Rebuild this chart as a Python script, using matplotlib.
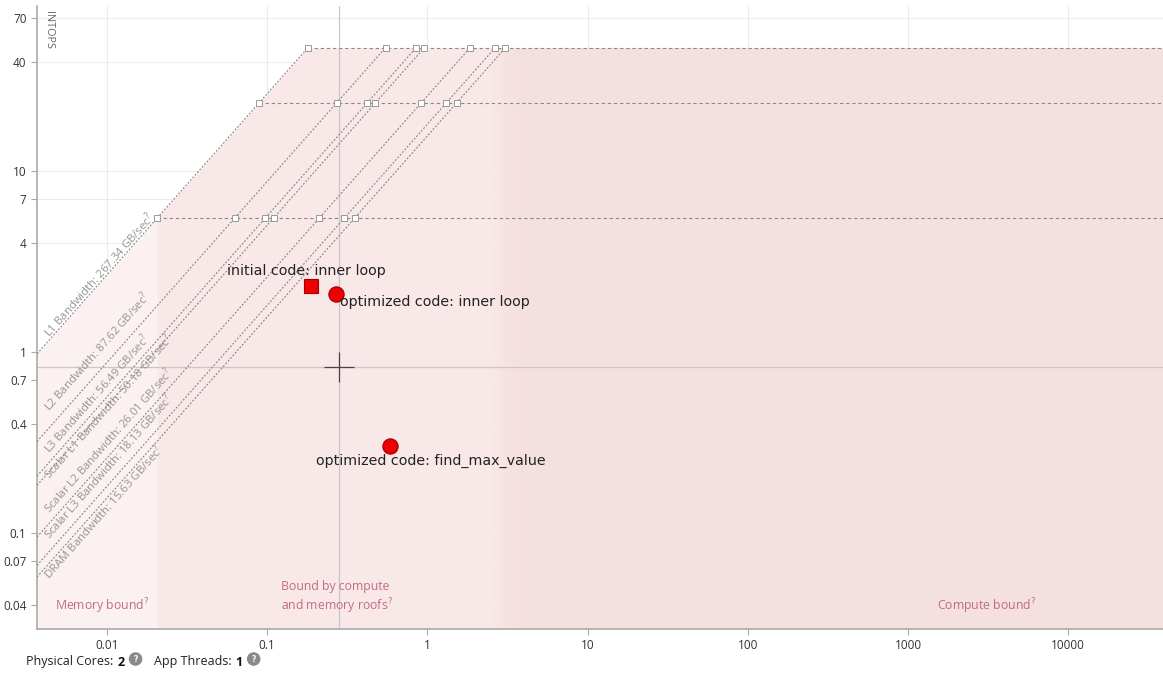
import numpy as np
import matplotlib
import matplotlib.pyplot as plt
from matplotlib.text import Annotation

matplotlib.use('Agg')

# bandwidth roofs (GB/sec)
bw_names = ['L1 Bandwidth', 'L2 Bandwidth', 'L3 Bandwidth', 'Scalar L1 Bandwidth',
            'Scalar L2 Bandwidth', 'Scalar L3 Bandwidth', 'DRAM Bandwidth']
bw_values = [267.34, 87.62, 56.49, 50.18, 26.01, 18.13, 15.63]

# compute roofs (GINTOPS)
peak_values = [48.0, 23.8, 5.5]

# loops on the chart
loop_names = ['initial code: inner loop', 'optimized code: inner loop',
              'optimized code: find_max_value']
loop_ai = [0.1875, 0.269, 0.584]
loop_perf = [2.32, 2.09, 0.303]
loop_markers = ['s', 'o', 'o']

x_ticks = [0.01, 0.1, 1, 10, 100, 1000, 10000]
x_ticklabels = ['0.01', '0.1', '1', '10', '100', '1000', '10000']
y_ticks = [0.04, 0.07, 0.1, 0.4, 0.7, 1, 4, 7, 10, 40, 70]
y_ticklabels = ['0.04', '0.07', '0.1', '0.4', '0.7', '1', '4', '7', '10', '40', '70']

cursor_ai, cursor_perf = 0.28, 0.826

physical_cores = 2
app_threads = 1

# layout: vertical offset (px) of each bandwidth label from its line
bw_label_dy = [2, 15, 8, -9, 9, 11, -17]
# layout: offsets (px) of loop labels from their points
loop_label_off = [(-5, 15), (4, -8), (41, -15)]
loop_label_ha = ['center', 'left', 'center']

W, H = 1163, 677
fig = plt.figure(figsize=(W / 100, H / 100), dpi=100)
ax = fig.add_axes([37 / W, (H - 629) / H, (W - 37) / W, (629 - 6) / H])
ax.set_xscale('log')
ax.set_yscale('log')
xlim = (0.003656, 39080)
ylim = (0.0295, 81.6)
ax.set_xlim(xlim)
ax.set_ylim(ylim)

ui_font = 'Open Sans'

# grid
for t in y_ticks:
    ax.axhline(t, color='#ececec', lw=0.8, zorder=0)
for t in x_ticks:
    ax.axvline(t, color='#ececec', lw=0.8, zorder=0)

# shaded regions under the roofline
def roof(x):
    return np.minimum(bw_values[0] * x, peak_values[0])

mem_edge = peak_values[-1] / bw_values[0]
comp_edge = peak_values[0] / bw_values[-1]
for a, b, c in [(xlim[0], mem_edge, '#fcf0f0'),
                (mem_edge, comp_edge, '#f9e7e7'),
                (comp_edge, xlim[1], '#f5dede')]:
    xs = np.geomspace(a, b, 300)
    ax.fill_between(xs, ylim[0], roof(xs), color=c, lw=0, zorder=1, alpha=0.92)
# soft edge at the compute bound region
c0 = np.array([0xf9, 0xe7, 0xe7]) / 255
c1 = np.array([0xf5, 0xde, 0xde]) / 255
edges = np.geomspace(comp_edge / 1.25, comp_edge * 1.25, 9)
for i in range(8):
    f = (i + 0.5) / 8
    xs = np.geomspace(edges[i], edges[i + 1], 10)
    ax.fill_between(xs, ylim[0], roof(xs), color=c0 * (1 - f) + c1 * f, lw=0, zorder=1.1)

# bandwidth roofs
for bw in bw_values:
    xs = np.array([xlim[0], peak_values[0] / bw])
    ax.plot(xs, bw * xs, ls=(0, (1.6, 1.6)), color='#808080', lw=0.8, zorder=3)

# compute roofs
for p in peak_values:
    ax.plot([p / bw_values[0], xlim[1]], [p, p], ls=(0, (3, 2.5)), color='#8a8a8a', lw=0.8, zorder=3)
    for bw in bw_values:
        ax.plot(p / bw, p, marker='s', ms=4, mfc='white', mec='#999999', mew=0.7, zorder=4)

# bandwidth labels along the lines
fig.canvas.draw()
p1 = ax.transData.transform((0.01, 0.01))
p2 = ax.transData.transform((0.1, 0.1))
angle = np.degrees(np.arctan2(p2[1] - p1[1], p2[0] - p1[0]))
x_lab = 0.0044
for name, bw, dy in zip(bw_names, bw_values, bw_label_dy):
    ax.annotate(f'{name}: {bw:.2f} GB/sec$^?$', (x_lab, bw * x_lab),
                xytext=(0, dy), textcoords='offset pixels',
                rotation=angle, rotation_mode='anchor', ha='left', va='baseline',
                fontsize=8.2, color='#959595', family=ui_font, zorder=5)

# cursor crosshair
ax.axvline(cursor_ai, color='#c8c8c8', lw=0.9, zorder=2)
ax.axhline(cursor_perf, color='#c8c8c8', lw=0.9, zorder=2)
ax.plot(cursor_ai, cursor_perf, marker='+', ms=22, mew=0.9, color='#444444', zorder=6)

# loops
for name, x, y, m, off, ha in zip(loop_names, loop_ai, loop_perf, loop_markers,
                                  loop_label_off, loop_label_ha):
    ax.plot(x, y, marker=m, ms=10 if m == 's' else 11, mfc='#ee0000', mec='#a00000',
            mew=0.8, ls='none', zorder=7)
    ax.annotate(name, (x, y), xytext=off, textcoords='offset pixels',
                ha=ha, va='center', fontsize=10.3, color='#222222', zorder=8)

# region captions
cap_color = '#c46a85'
ax.text(0.00475, 0.0395, 'Memory bound$^?$', fontsize=8.8, color=cap_color, family=ui_font,
        va='center', zorder=5)
ax.text(0.122, 0.0505, 'Bound by compute', fontsize=8.8, color=cap_color, family=ui_font,
        va='center', zorder=5)
ax.text(0.122, 0.0392, 'and memory roofs$^?$', fontsize=8.8, color=cap_color, family=ui_font,
        va='center', zorder=5)
ax.text(1520, 0.0395, 'Compute bound$^?$', fontsize=8.8, color=cap_color, family=ui_font,
        va='center', zorder=5)

# axes style
for s in ['top', 'right']:
    ax.spines[s].set_visible(False)
for s in ['left', 'bottom']:
    ax.spines[s].set_color('#aaaaaa')
    ax.spines[s].set_linewidth(1.2)
ax.set_xticks(x_ticks)
ax.set_xticklabels(x_ticklabels)
ax.set_yticks(y_ticks)
ax.set_yticklabels(y_ticklabels)
ax.minorticks_off()
ax.tick_params(colors='#aaaaaa', labelcolor='#333333', labelsize=8.5, length=4, width=0.8)
for lab in ax.get_xticklabels() + ax.get_yticklabels():
    lab.set_family(ui_font)
ax.text(0.0040, 77, 'INTOPS', rotation=270, ha='left', va='top', fontsize=7.8,
        color='#666666', family=ui_font)

# footer: pieces chained one after another
fy = 1 - 662 / H
foot_fs = 9
plain = dict(fontsize=foot_fs, color='#222222', family=ui_font, ha='left', va='center')
bold = dict(fontsize=foot_fs, color='#111111', family=ui_font, weight='bold',
            ha='left', va='center')
icon = dict(fontsize=5.5, color='white', weight='bold', ha='left', va='center',
            bbox=dict(boxstyle='circle,pad=0.3', fc='#8a8a8a', ec='none'))
first = fig.text(26 / W, fy, 'Physical Cores:', **plain)
pieces = [(str(physical_cores), 4, 0, bold),
          ('?', 9, 3, icon),
          ('App Threads:', 16, 0, plain),
          (str(app_threads), 4, 0, bold),
          ('?', 9, 3, icon)]
prev = first
for txt, gap, dy, kw in pieces:
    prev = fig.add_artist(Annotation(txt, xy=(1, 0.5), xycoords=(prev, first),
                                     xytext=(gap, dy), textcoords='offset pixels',
                                     annotation_clip=False, **kw))

fig.savefig('out.png', dpi=100)
